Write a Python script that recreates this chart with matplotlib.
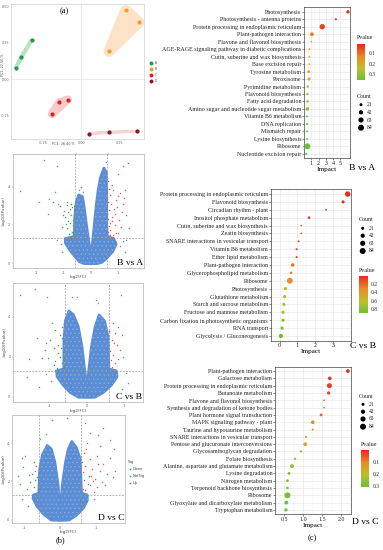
import numpy as np
import matplotlib
matplotlib.use("Agg")
import matplotlib.pyplot as plt
from matplotlib.colors import LinearSegmentedColormap, Normalize
from matplotlib.cm import ScalarMappable

# ======================= DATA =======================
# ---- (a) PCA scores ----
pca_groups = ["A", "B", "C", "D"]
pcaA_x = [-0.428, -0.395, -0.324]; pcaA_y = [0.080, 0.152, 0.270]
pcaB_x = [0.184, 0.294, 0.380];    pcaB_y = [0.191, 0.470, 0.390]
pcaC_x = [-0.191, -0.143, -0.087]; pcaC_y = [-0.236, -0.157, -0.138]
pcaD_x = [0.053, 0.186, 0.370];    pcaD_y = [-0.370, -0.359, -0.354]
pca_xlabel = "PC1: 36.40 %"
pca_ylabel = "PC2: 22.50 %"

# ---- (b) volcano plots ----
fc_cut = 0.585     # log2(1.5)
p_cut = 1.301      # -log10(0.05)

# B vs A  (outline of the dense NotSig cloud + individual points)
v1_cloud_x = [0.00, -0.25, -0.42, -0.60, -0.80, -0.95, -0.95, -0.62, -0.60, -0.55, -0.45, -0.30, -0.24, -0.15,
              -0.05, 0.00, 0.05, 0.12, 0.19, 0.26, 0.35, 0.48, 0.58, 0.60, 0.60, 0.62, 0.85, 0.95, 0.82, 0.60,
              0.42, 0.25]
v1_cloud_y = [-0.05, -0.04, 0.05, 0.35, 0.70, 1.05, 1.30, 1.40, 2.40, 3.20, 3.60, 3.50, 3.00, 2.00,
              1.00, 0.55, 1.00, 2.00, 3.00, 3.80, 4.50, 5.00, 4.80, 3.50, 2.00, 1.40, 1.30, 1.00, 0.60, 0.25,
              0.03, -0.04]
v1_red_x = [1.37, 1.21, 1.02, 0.84, 1.09, 1.27, 1.23, 0.96, 1.15, 0.78, 1.40, 0.90, 0.72, 1.02, 0.84,
            0.65, 0.70, 0.75, 0.68, 0.62, 0.66, 0.80, 0.88, 0.95, 1.05, 1.12, 0.73, 0.64, 0.60, 0.69,
            0.77, 0.93, 1.30, 1.18, 0.99, 0.86, 0.63, 0.71, 0.82, 0.67]
v1_red_y = [5.25, 5.10, 4.70, 3.84, 3.67, 3.84, 3.40, 2.96, 2.70, 2.44, 1.82, 2.00, 1.74, 1.56, 1.39,
            4.30, 3.60, 3.10, 2.80, 2.30, 1.95, 2.20, 2.60, 3.30, 2.25, 1.90, 1.50, 1.65, 2.60, 3.90,
            4.10, 1.60, 2.50, 3.10, 3.50, 2.85, 3.20, 2.10, 1.45, 1.42]
v1_green_x = [-0.89, -0.70, -0.83, -1.01, -0.64, -0.77, -0.89, -0.70, -0.58, -1.38, -1.15, -0.95, -0.62, -0.66, -0.74,
              -0.81, -0.60, -0.68, -0.72, -0.85, -1.05, -0.63, -0.78, -0.92, -0.61, -0.75, -0.67, -0.99, -0.87, -0.60]
v1_green_y = [3.23, 2.96, 2.70, 2.53, 2.26, 2.09, 1.82, 1.65, 1.47, 3.23, 3.00, 2.40, 2.80, 2.00, 2.50,
              1.55, 1.75, 1.40, 3.10, 2.20, 1.90, 2.45, 2.85, 2.05, 3.00, 1.38, 1.60, 2.75, 3.05, 2.15]
v1_blue_x = [-1.72, -1.26, -2.62, -1.91, -1.32, -0.45, 0.50, -1.55, -1.20, -0.35, 0.55, 1.20, -1.60, -0.30,
             1.10, 1.30, -1.10, -1.25, 1.25, -1.05]
v1_blue_y = [5.40, 5.10, 3.80, 3.23, 3.75, 3.85, 5.05, 3.35, 3.10, 4.00, 5.30, 1.15, 2.60, 3.75,
             0.90, 1.20, 1.00, 1.20, 0.60, 0.60]

# C vs B
v2_cloud_x = [0.00, -0.22, -0.45, -0.65, -0.80, -0.82, -0.62, -0.62, -0.58, -0.48, -0.35, -0.22, -0.12, -0.04,
              0.00, 0.04, 0.12, 0.22, 0.33, 0.48, 0.58, 0.60, 0.80, 0.82, 0.68, 0.45, 0.22]
v2_cloud_y = [-0.05, -0.04, 0.20, 0.60, 1.00, 1.30, 1.40, 2.80, 3.80, 4.30, 4.10, 3.50, 2.50, 1.20,
              0.40, 1.20, 2.50, 3.50, 4.10, 3.80, 3.00, 1.40, 1.30, 1.00, 0.60, 0.20, -0.04]
v2_red_x = [0.71, 0.85, 0.76, 0.67, 0.80, 0.89, 0.71, 0.64, 0.76, 0.67, 0.94, 0.62, 0.70, 0.98, 0.83, 0.60, 0.73]
v2_red_y = [3.67, 3.50, 3.17, 2.83, 2.58, 2.33, 2.08, 1.83, 1.67, 1.50, 3.08, 2.30, 1.40, 2.00, 1.90, 3.30, 2.70]
v2_green_x = [-0.98, -0.89, -1.12, -0.85, -0.76, -0.71, -1.03, -0.67, -0.89, -0.80, -0.62, -0.94, -0.67, -1.20,
              -0.64, -0.72, -0.78, -0.60, -1.08, -0.84, -0.66, -0.70]
v2_green_y = [2.83, 2.42, 2.33, 3.33, 2.58, 2.00, 1.92, 1.67, 1.58, 1.42, 1.83, 3.67, 2.92, 1.92,
              2.25, 3.10, 2.20, 1.50, 2.70, 1.80, 3.50, 2.45]
v2_blue_x = [-1.79, -1.40, -1.07, -0.40, -0.25, 0.25, 0.92, -1.34, -1.61, -1.29, -0.45, -1.10, 1.05, -1.55,
             1.10, 0.95, -0.95, 0.30]
v2_blue_y = [5.08, 5.37, 5.00, 5.00, 5.00, 4.83, 5.08, 2.92, 1.00, 0.47, 4.17, 1.15, 1.20, 1.90,
             0.70, 0.40, 0.80, 4.70]

# D vs C
v3_cloud_x = [0.00, -0.25, -0.45, -0.65, -0.76, -0.75, -0.60, -0.58, -0.50, -0.36, -0.24, -0.14, -0.05, 0.00,
              0.05, 0.14, 0.22, 0.32, 0.45, 0.56, 0.60, 0.76, 0.76, 0.65, 0.45, 0.25]
v3_cloud_y = [-0.05, -0.03, 0.25, 0.70, 1.10, 1.30, 1.40, 2.60, 3.40, 3.90, 3.70, 3.00, 1.80, 0.50,
              1.80, 3.00, 3.70, 4.10, 3.80, 3.20, 1.40, 1.30, 1.00, 0.60, 0.22, -0.03]
v3_red_x = [0.65, 0.83, 1.02, 1.20, 1.39, 0.69, 0.88, 1.11, 0.79, 0.97, 0.65, 1.16, 0.83, 1.02, 0.69,
            0.93, 1.30, 1.53, 1.48, 0.74, 1.11, 0.60, 0.63, 0.76, 1.06, 0.72, 0.90, 0.62, 1.25, 0.85]
v3_red_y = [3.50, 3.16, 3.33, 2.90, 3.25, 2.82, 2.65, 2.56, 2.31, 2.14, 2.05, 1.97, 1.79, 1.71, 1.54,
            1.45, 2.39, 2.56, 2.22, 4.02, 3.85, 2.99, 2.48, 1.88, 2.90, 3.70, 2.00, 1.60, 1.80, 2.30]
v3_green_x = [-0.74, -0.69, -0.79, -0.65, -0.83, -0.60, -0.74, -0.93, -0.63, -1.02, -1.11, -0.67, -0.71, -0.88]
v3_green_y = [2.99, 2.56, 2.39, 2.22, 1.97, 1.97, 1.71, 1.62, 1.54, 2.74, 1.88, 2.80, 2.10, 2.35]
v3_blue_x = [1.34, 0.83, 1.06, 1.39, -1.06, -0.97, -1.16, -0.79, -1.05, -0.23, -0.40, 0.19, 0.69, -0.55,
             1.20, 0.95, -0.90, 1.50]
v3_blue_y = [5.56, 4.53, 4.44, 4.19, 3.25, 3.33, 2.31, 1.11, 1.10, 5.21, 4.50, 5.30, 5.04, 4.20,
             4.80, 1.10, 0.70, 3.70]
sig_labels = ["Down", "NotSig", "Up"]

# ---- (c) KEGG enrichment bubble plots ----
cat1 = ["Photosynthesis", "Photosynthesis - antenna proteins", "Protein processing in endoplasmic reticulum",
        "Plant-pathogen interaction", "Flavone and flavonol biosynthesis",
        "AGE-RAGE signaling pathway in diabetic complications", "Cutin, suberine and wax biosynthesis",
        "Base excision repair", "Tyrosine metabolism", "Peroxisome", "Pyrimidine metabolism",
        "Flavonoid biosynthesis", "Fatty acid degradation", "Amino sugar and nucleotide sugar metabolism",
        "Vitamin B6 metabolism", "DNA replication", "Mismatch repair", "Lysine biosynthesis", "Ribosome",
        "Nucleotide excision repair"]
impact1 = [6.03, 4.37, 2.51, 1.09, 1.00, 0.74, 0.74, 0.74, 0.65, 0.70, 0.51, 0.47, 0.50, 0.47, 0.42, 0.42,
           0.42, 0.42, 0.47, 0.29]
count1 = [25, 12, 70, 35, 5, 8, 8, 8, 20, 24, 14, 12, 14, 30, 10, 10, 9, 9, 84, 10]
pval1 = [0.015, 0.04, 0.05, 0.12, 0.15, 0.18, 0.19, 0.20, 0.22, 0.23, 0.28, 0.30, 0.30, 0.31, 0.33, 0.33,
         0.34, 0.34, 0.35, 0.355]

cat2 = ["Protein processing in endoplasmic reticulum", "Flavonoid biosynthesis", "Circadian rhythm - plant",
        "Inositol phosphate metabolism", "Cutin, suberine and wax biosynthesis", "Zeatin biosynthesis",
        "SNARE interactions in vesicular transport", "Vitamin B6 metabolism", "Ether lipid metabolism",
        "Plant-pathogen interaction", "Glycerophospholipid metabolism", "Ribosome", "Photosynthesis",
        "Glutathione metabolism", "Starch and sucrose metabolism", "Fructose and mannose metabolism",
        "Carbon fixation in photosynthetic organisms", "RNA transport", "Glycolysis / Gluconeogenesis"]
impact2 = [3.81, 3.55, 2.60, 1.65, 1.21, 1.21, 1.06, 0.95, 0.95, 0.73, 0.64, 0.57, 0.33, 0.28, 0.24, 0.19,
           0.19, 0.14, 0.07]
count2 = [70, 22, 8, 16, 6, 6, 9, 10, 10, 30, 16, 80, 26, 24, 24, 24, 26, 26, 42]
pval2 = [0.005, 0.02, 0.03, 0.04, 0.05, 0.05, 0.06, 0.07, 0.07, 0.25, 0.28, 0.32, 0.62, 0.66, 0.68, 0.72,
         0.75, 0.80, 0.89]

cat3 = ["Plant-pathogen interaction", "Galactose metabolism", "Protein processing in endoplasmic reticulum",
        "Butanoate metabolism", "Flavone and flavonol biosynthesis",
        "Synthesis and degradation of ketone bodies", "Plant hormone signal transduction",
        "MAPK signaling pathway - plant", "Taurine and hypotaurine metabolism",
        "SNARE interactions in vesicular transport", "Pentose and glucuronate interconversions",
        "Glycosaminoglycan degradation", "Folate biosynthesis", "Alanine, aspartate and glutamate metabolism",
        "Lysine degradation", "Nitrogen metabolism", "Terpenoid backbone biosynthesis", "Ribosome",
        "Glyoxylate and dicarboxylate metabolism", "Tryptophan metabolism"]
impact3 = [2.18, 1.70, 1.69, 1.67, 1.55, 1.55, 1.47, 1.25, 1.25, 1.07, 1.05, 0.94, 0.78, 0.70, 0.62, 0.58,
           0.58, 0.58, 0.55, 0.54]
count3 = [32, 32, 60, 26, 6, 6, 20, 30, 10, 12, 32, 14, 14, 36, 20, 18, 16, 84, 36, 24]
pval3 = [0.005, 0.02, 0.03, 0.04, 0.05, 0.06, 0.07, 0.10, 0.11, 0.14, 0.15, 0.17, 0.22, 0.25, 0.27, 0.28,
         0.28, 0.29, 0.30, 0.305]

count_breaks = [21, 42, 63, 84]
pticks1 = [0.1, 0.2, 0.3]
pticks2 = [0.2, 0.4, 0.6, 0.8]
pticks3 = [0.1, 0.2, 0.3]
impact_ticks1 = [1, 2, 3, 4, 5]
impact_ticks2 = [0, 1, 2, 3]
impact_ticks3 = [0.5, 1.0, 1.5, 2.0]

# ======================= STYLE / LAYOUT =======================
W, H = 383, 550
SERIF = ['Liberation Serif', 'DejaVu Serif']
SANS = ['DejaVu Sans']
plt.rcParams['font.family'] = SERIF
plt.rcParams['hatch.linewidth'] = 0.5
fig = plt.figure(figsize=(W / 100, H / 100), dpi=100)
fig.patch.set_facecolor('white')


def box(l, t, r, b):
    return [l / W, 1 - b / H, (r - l) / W, (b - t) / H]


CMAP = LinearSegmentedColormap.from_list(
    'pv', [(0, '#E6281E'), (0.35, '#EC8A26'), (0.68, '#BCC02C'), (1, '#6CBE3A')])
KS = 0.22   # bubble area (pt^2) per gene count

GREEN, BLUE, RED = '#3CAA3A', '#5A8DD4', '#E5544A'
BLUE_LIGHT = '#86ABE2'
pca_cols = ['#1E9A48', '#F39C2C', '#E0201E', '#8E1518']
pca_hull = ['#B6E2C2', '#FCE3C8', '#F8CACA', '#F3D3D3']

# ---------------- (a) PCA ----------------
ax = fig.add_axes(box(11, 4, 144, 139))
ax.set_xlim(-0.46, 0.414)
ax.set_ylim(-0.407, 0.514)
for sp in ax.spines.values():
    sp.set_color('#cfcfcf'); sp.set_linewidth(0.5)
ax.axhline(0, color='#e4e4e4', lw=0.5, zorder=0)
ax.axvline(0, color='#e4e4e4', lw=0.5, zorder=0)
ax.set_xticks([-0.25, 0, 0.25])
ax.set_xticklabels(['-0.25', '0.00', '0.25'])
ax.set_yticks([-0.25, 0, 0.25, 0.5])
ax.set_yticklabels(['-0.25', '0.00', '0.25', '0.50'])
ax.tick_params(labelsize=2.4, length=0, pad=1.2, colors='#666666')
for t in ax.get_xticklabels() + ax.get_yticklabels():
    t.set_fontfamily(SANS)
groups = [(pcaA_x, pcaA_y), (pcaB_x, pcaB_y), (pcaC_x, pcaC_y), (pcaD_x, pcaD_y)]
hull_lw = [2.5, 8, 6, 2]
for (gx, gy), c, hc, lw in zip(groups, pca_cols, pca_hull, hull_lw):
    ax.fill(gx, gy, fc=hc, ec=hc, lw=lw, joinstyle='round', zorder=1)
    ax.scatter(gx, gy, s=9, color=c, zorder=3, linewidths=0)
fig.text(63 / W, 1 - 143.5 / H, pca_xlabel, fontsize=2.4, family=SANS, color='#555555', ha='center', va='center')
fig.text(3.5 / W, 1 - 65 / H, pca_ylabel, fontsize=2.4, family=SANS, color='#555555', ha='center', va='center',
         rotation=90)
fig.text(64 / W, 1 - 11 / H, '(a)', fontsize=6, ha='center', va='center')


# ---------------- (b) volcano plots ----------------
def volcano(rect, xlim, ylim, xticks, cx, cy, bx, by, gx, gy, rx, ry, title):
    a = fig.add_axes(box(*rect))
    a.set_xlim(*xlim)
    a.set_ylim(*ylim)
    for sp in a.spines.values():
        sp.set_color('#b0b0b0'); sp.set_linewidth(0.5)
    a.fill(cx, cy, fc=BLUE, ec=BLUE, lw=1.6, zorder=1, joinstyle='round')
    a.fill(cx, cy, fc='none', ec=BLUE_LIGHT, lw=0, hatch='....', zorder=1.5)
    a.scatter(bx, by, s=1.1, color=BLUE, linewidths=0, zorder=2)
    a.scatter(gx, gy, s=1.1, color=GREEN, linewidths=0, zorder=2)
    a.scatter(rx, ry, s=1.1, color=RED, linewidths=0, zorder=2)
    for v in (-fc_cut, fc_cut):
        a.axvline(v, color='#8a8a8a', lw=0.45, ls=(0, (3, 2)), zorder=3)
    a.axhline(p_cut, color='#8a8a8a', lw=0.45, ls=(0, (3, 2)), zorder=3)
    a.set_xticks(xticks)
    a.set_xticklabels([str(v) for v in xticks])
    a.set_yticks([0, 2, 4])
    a.set_yticklabels(['0', '2', '4'])
    a.tick_params(labelsize=2.6, length=1, width=0.3, pad=1, colors='#666666')
    for t in a.get_xticklabels() + a.get_yticklabels():
        t.set_fontfamily(SANS)
    a.set_xlabel('log2(FC)', fontsize=3, family=SANS, labelpad=0.5, color='#444444')
    a.set_ylabel('-log10(Pvalue)', fontsize=3, family=SANS, labelpad=1, color='#444444')
    a.text(0.995, 0.01, title, transform=a.transAxes, ha='right', va='bottom', fontsize=6.8)
    return a


volcano((12.7, 154, 144, 268), (-2.89, 1.97), (-0.26, 5.73), [-2, -1, 0, 1],
        v1_cloud_x, v1_cloud_y, v1_blue_x, v1_blue_y, v1_green_x, v1_green_y, v1_red_x, v1_red_y, 'B vs A')
volcano((13.3, 283, 143, 401.7), (-1.97, 1.51), (-0.25, 5.68), [-1, 0, 1],
        v2_cloud_x, v2_cloud_y, v2_blue_x, v2_blue_y, v2_green_x, v2_green_y, v2_red_x, v2_red_y, 'C vs B')
volcano((12.3, 415, 125, 523), (-1.33, 1.80), (-0.17, 5.47), [-1, 0, 1],
        v3_cloud_x, v3_cloud_y, v3_blue_x, v3_blue_y, v3_green_x, v3_green_y, v3_red_x, v3_red_y, 'D vs C')
fig.text(60 / W, 1 - 540 / H, '(b)', fontsize=6, ha='center', va='center')


# ---------------- (c) bubble plots ----------------
def dotplot(rect, cats, imp, cnt, pv, xticks, xtl):
    a = fig.add_axes(box(*rect))
    n = len(cats)
    y = np.arange(n)[::-1]
    norm = Normalize(min(pv), max(pv))
    a.scatter(imp, y, s=np.array(cnt) * KS, c=pv, cmap=CMAP, norm=norm, linewidths=0, zorder=3)
    r = max(imp) - min(imp)
    a.set_xlim(min(imp) - 0.05 * r, max(imp) + 0.05 * r)
    a.set_ylim(-0.6, n - 0.4)
    a.set_yticks(y)
    a.set_yticklabels(cats, fontsize=4.3, color='#222222')
    a.set_xticks(xticks)
    a.set_xticklabels(xtl, fontsize=4.3, color='#222222')
    step = xticks[1] - xticks[0]
    minors = np.arange(xticks[0] - step / 2, a.get_xlim()[1], step)
    a.set_xticks(minors, minor=True)
    a.tick_params(which='major', length=1.2, width=0.4, pad=0.8, color='#333333')
    a.tick_params(which='minor', length=0)
    a.grid(True, which='major', color='#e6e6e6', lw=0.45)
    a.grid(True, which='minor', axis='x', color='#f0f0f0', lw=0.35)
    a.set_axisbelow(True)
    for sp in a.spines.values():
        sp.set_color('#444444'); sp.set_linewidth(0.5)
    a.set_xlabel('Impact', fontsize=5.2, labelpad=0.5)
    return a, norm


def colorbar(rect, norm, ticks):
    cax = fig.add_axes(box(*rect))
    cb = fig.colorbar(ScalarMappable(norm=norm, cmap=CMAP), cax=cax)
    cb.outline.set_visible(False)
    cax.invert_yaxis()
    cb.set_ticks(ticks)
    cb.set_ticklabels([f'{t:.1f}' for t in ticks])
    cax.tick_params(labelsize=4, length=1.5, width=0.4, color='white', pad=1, labelcolor='#222222')
    return cax


a1, n1 = dotplot((304, 7.3, 350, 158.3), cat1, impact1, count1, pval1, impact_ticks1,
                 [str(v) for v in impact_ticks1])
a2, n2 = dotplot((270.7, 189.3, 351, 340.7), cat2, impact2, count2, pval2, impact_ticks2,
                 [str(v) for v in impact_ticks2])
a3, n3 = dotplot((275, 366.7, 351, 514.3), cat3, impact3, count3, pval3, impact_ticks3,
                 [f'{v:.1f}' for v in impact_ticks3])
colorbar((357, 44, 365, 80), n1, pticks1)
colorbar((359, 275.7, 367.5, 313.3), n2, pticks2)
colorbar((361, 450, 369.3, 486.7), n3, pticks3)

fig.text(349 / W, 1 - 168 / H, 'B vs A', fontsize=6.8, va='center', ha='left')
fig.text(350 / W, 1 - 346 / H, 'C vs B', fontsize=6.8, va='center', ha='left')
fig.text(352.5 / W, 1 - 521.7 / H, 'D vs C', fontsize=6.8, va='center', ha='left')
fig.text(312.7 / W, 1 - 538.5 / H, '(c)', fontsize=6, ha='center', va='center')

# ---------------- legends (overlay in pixel space) ----------------
ov = fig.add_axes([0, 0, 1, 1], zorder=10)
ov.set_xlim(0, W)
ov.set_ylim(H, 0)
ov.axis('off')
ov.patch.set_alpha(0)


def count_legend(x, ytitle, ys, dx, lx):
    ov.text(x, ytitle, 'Count', fontsize=4.3, va='center', ha='left', color='#222222')
    ov.scatter([x + dx] * len(ys), ys, s=np.array(count_breaks) * KS, color='black', linewidths=0)
    for yy, c in zip(ys, count_breaks):
        ov.text(lx, yy, str(c), fontsize=4, va='center', ha='left', color='#222222')


count_legend(357, 96.7, [104.7, 112.3, 120, 127.7], 4, 367)
count_legend(359, 219.3, [228.3, 235.7, 243.3, 251], 3.7, 369)
count_legend(359, 396.7, [404.3, 411.7, 419, 426.7], 4, 369)
ov.text(357, 37.7, 'Pvalue', fontsize=4.3, va='center', ha='left', color='#222222')
ov.text(359, 270.7, 'Pvalue', fontsize=4.3, va='center', ha='left', color='#222222')
ov.text(361, 444.3, 'Pvalue', fontsize=4.3, va='center', ha='left', color='#222222')

# PCA group legend
for yy, c, g in zip([63, 69, 75, 81], pca_cols, pca_groups):
    ov.scatter([151], [yy], s=8, color=c, linewidths=0)
    ov.text(154.5, yy, g, fontsize=2.2, family=SANS, va='center', ha='left', color='#555555')

# Sig legend
ov.text(127.5, 461.7, 'Sig', fontsize=2.8, family=SANS, va='center', ha='left', color='#444444')
for yy, c, g in zip([469, 476, 483], [GREEN, BLUE, RED], sig_labels):
    ov.scatter([130], [yy], s=1.5, color=c, linewidths=0)
    ov.text(133, yy, g, fontsize=2.6, family=SANS, va='center', ha='left', color='#444444')

fig.savefig('out.png', dpi=100, facecolor='white')
